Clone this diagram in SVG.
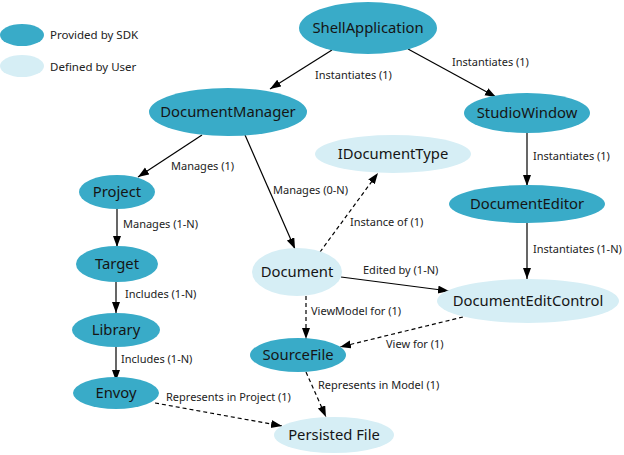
<svg xmlns="http://www.w3.org/2000/svg" width="624" height="455" viewBox="0 0 624 455">
<defs>
<marker id="arr" markerUnits="userSpaceOnUse" markerWidth="13" markerHeight="9" refX="11" refY="4" orient="auto">
<path d="M0,0 L11,4 L0,8 z" fill="#000"/>
</marker>
<style>
.sdk{fill:#39abc8}
.usr{fill:#d6eef5}
.nt{font-family:"Noto Sans","Open Sans",sans-serif;font-size:14.8px;fill:#151515;text-anchor:middle}
.lg{font-family:"Noto Sans","Open Sans",sans-serif;font-size:11.5px;fill:#222}
.el{font-family:"Noto Sans","Open Sans",sans-serif;font-size:11px;fill:#222}
.e{stroke:#000;stroke-width:1.2;fill:none;marker-end:url(#arr)}
.d{stroke-dasharray:4,3}
</style>
</defs>
<rect width="624" height="455" fill="#fff"/>
<g id="legend">
<ellipse class="sdk" cx="22" cy="35" rx="22" ry="11"/>
<text class="lg" x="50" y="39">Provided by SDK</text>
<ellipse class="usr" cx="22" cy="66" rx="22" ry="11"/>
<text class="lg" x="50" y="71">Defined by User</text>
</g>
<g id="edges">
<line class="e" x1="332" y1="50" x2="270" y2="89"/>
<text class="el" x="315" y="79">Instantiates (1)</text>
<line class="e" x1="408" y1="49" x2="496" y2="97"/>
<text class="el" x="452" y="66">Instantiates (1)</text>
<line class="e" x1="202" y1="135" x2="138" y2="177"/>
<text class="el" x="171" y="170">Manages (1)</text>
<line class="e" x1="245" y1="135" x2="295" y2="249"/>
<text class="el" x="273" y="194">Manages (0-N)</text>
<line class="e" x1="117" y1="209" x2="117" y2="247"/>
<text class="el" x="123" y="228">Manages (1-N)</text>
<line class="e" x1="116" y1="282" x2="116" y2="313"/>
<text class="el" x="125" y="298">Includes (1-N)</text>
<line class="e" x1="116" y1="347" x2="116" y2="381"/>
<text class="el" x="121" y="363">Includes (1-N)</text>
<line class="e d" x1="320" y1="252" x2="378" y2="173"/>
<text class="el" x="350" y="226">Instance of (1)</text>
<line class="e" x1="341" y1="277" x2="449" y2="291"/>
<text class="el" x="363" y="274">Edited by (1-N)</text>
<line class="e" x1="527" y1="133" x2="527" y2="186"/>
<text class="el" x="533" y="160">Instantiates (1)</text>
<line class="e" x1="527" y1="223" x2="527" y2="279"/>
<text class="el" x="533" y="253">Instantiates (1-N)</text>
<line class="e d" x1="306" y1="296" x2="306" y2="339"/>
<text class="el" x="311" y="315">ViewModel for (1)</text>
<line class="e d" x1="463" y1="317" x2="340" y2="347"/>
<text class="el" x="386" y="348">View for (1)</text>
<line class="e d" x1="306" y1="372" x2="326" y2="417"/>
<text class="el" x="318" y="389">Represents in Model (1)</text>
<line class="e d" x1="155" y1="403" x2="282" y2="426"/>
<text class="el" x="166" y="401">Represents in Project (1)</text>
</g>
<g id="ShellApplication"><ellipse class="sdk" cx="368" cy="28" rx="69" ry="26"/><text class="nt" x="368" y="33">ShellApplication</text></g>
<g id="DocumentManager"><ellipse class="sdk" cx="228" cy="112" rx="79" ry="24"/><text class="nt" x="228" y="117">DocumentManager</text></g>
<g id="StudioWindow"><ellipse class="sdk" cx="527" cy="113" rx="63" ry="20"/><text class="nt" x="527" y="118">StudioWindow</text></g>
<g id="IDocumentType"><ellipse class="usr" cx="393" cy="154" rx="78" ry="19"/><text class="nt" x="393" y="159">IDocumentType</text></g>
<g id="Project"><ellipse class="sdk" cx="117" cy="192" rx="38" ry="17"/><text class="nt" x="117" y="197">Project</text></g>
<g id="DocumentEditor"><ellipse class="sdk" cx="527" cy="204" rx="78" ry="19"/><text class="nt" x="527" y="209">DocumentEditor</text></g>
<g id="Target"><ellipse class="sdk" cx="117" cy="264" rx="41" ry="18"/><text class="nt" x="117" y="269">Target</text></g>
<g id="Document"><ellipse class="usr" cx="297" cy="272" rx="45" ry="24"/><text class="nt" x="297" y="277">Document</text></g>
<g id="DocumentEditControl"><ellipse class="usr" cx="528" cy="301" rx="91" ry="22"/><text class="nt" x="528" y="306">DocumentEditControl</text></g>
<g id="Library"><ellipse class="sdk" cx="116" cy="330" rx="44" ry="17"/><text class="nt" x="116" y="335">Library</text></g>
<g id="SourceFile"><ellipse class="sdk" cx="298" cy="355" rx="48" ry="17"/><text class="nt" x="298" y="360">SourceFile</text></g>
<g id="Envoy"><ellipse class="sdk" cx="116" cy="393" rx="43" ry="16"/><text class="nt" x="116" y="398">Envoy</text></g>
<g id="PersistedFile"><ellipse class="usr" cx="334" cy="435" rx="60" ry="18"/><text class="nt" x="334" y="440">Persisted File</text></g>
</svg>
